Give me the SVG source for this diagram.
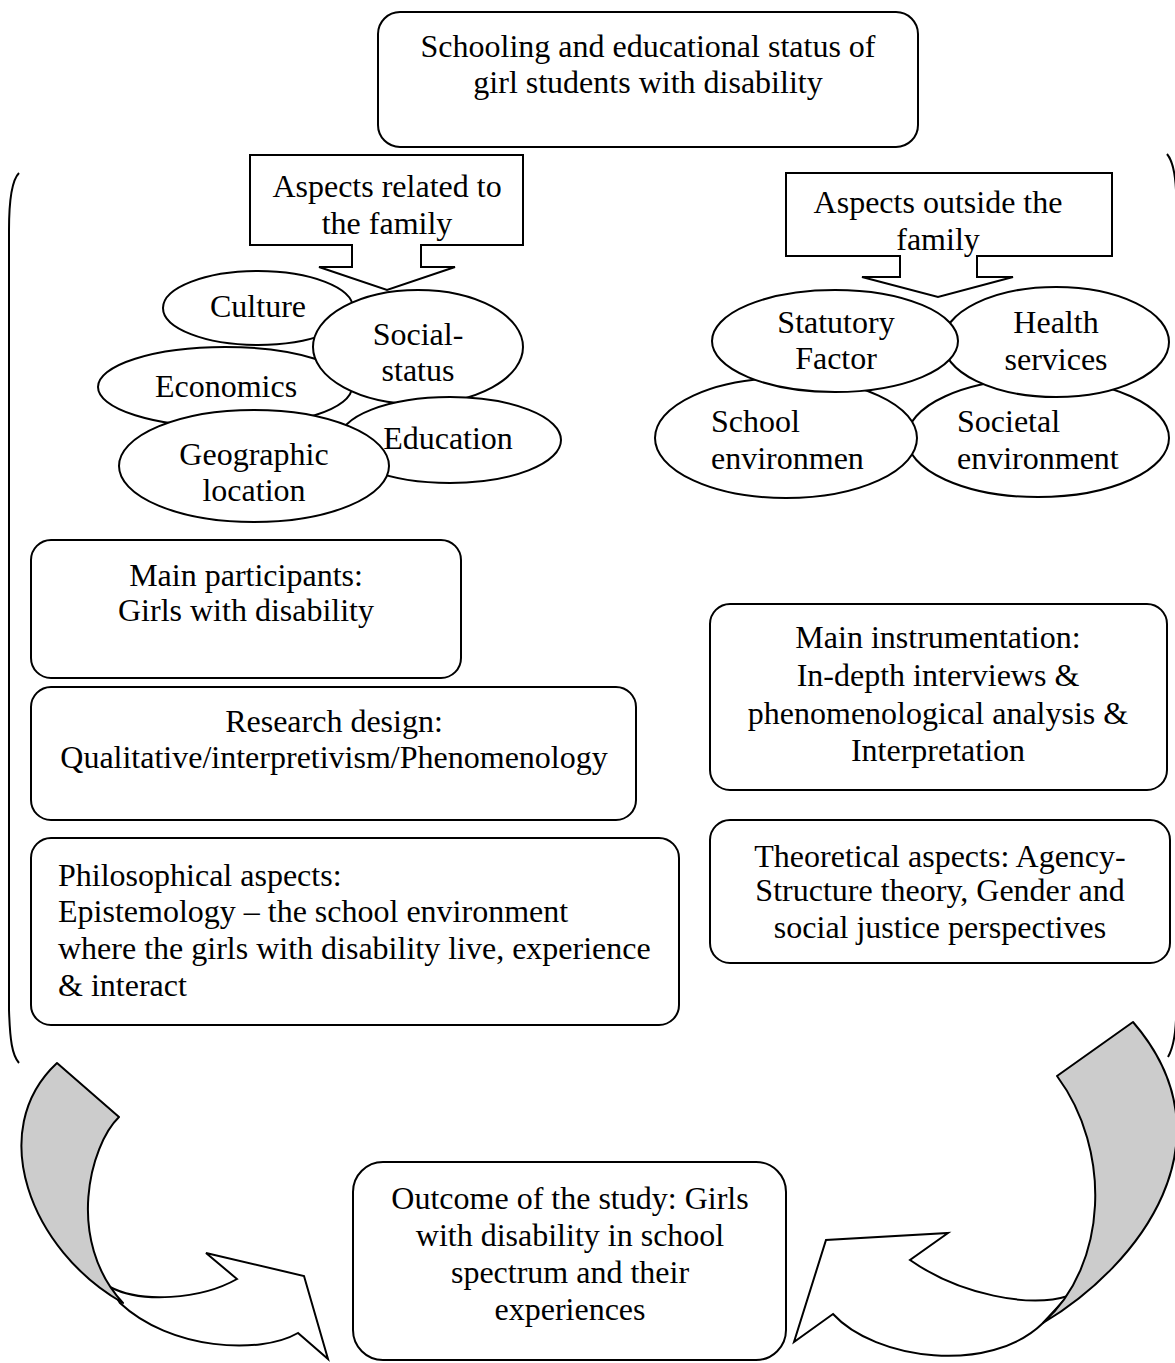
<svg xmlns="http://www.w3.org/2000/svg" width="1175" height="1363" viewBox="0 0 1175 1363">
<style>
.t{font-family:"Liberation Serif","Times New Roman",serif;font-size:32px;fill:#000}
.c{text-anchor:middle}
.b{fill:#fff;stroke:#000;stroke-width:2}
.ln{fill:none;stroke:#000;stroke-width:2}
.g{fill:#cccccc;stroke:#000;stroke-width:2;stroke-linejoin:round}
</style>
<rect width="1175" height="1363" fill="#fff"/>
<g id="connectors">
<path class="ln" d="M19,173 C12,180 9,200 9,230 L9,1010 C10,1040 12,1055 19,1063"/>
<path class="ln" d="M1167,154 C1172,160 1175,170 1176,190 L1176,1020 C1175,1040 1172,1050 1168,1057"/>
<g id="arrow-left">
<path class="b" d="M110,1287 C140,1303 200,1300 237,1279 L206,1253 L304,1276 L328,1359 L298,1333 C260,1355 170,1350 120,1303 Z"/>
<path class="g" d="M57,1063 L119,1117 C90,1145 65,1240 123,1303 C30,1250 -15,1130 57,1063 Z"/>
</g>
<g id="arrow-right">
<path class="b" d="M1068,1296 C1030,1308 960,1295 910,1260 L948,1233 L826,1240 L794,1342 L833,1314 C875,1360 990,1375 1043,1323 Z"/>
<path class="g" d="M1133,1022 L1057,1076 C1112,1150 1108,1265 1043,1323 C1140,1265 1235,1140 1133,1022 Z"/>
</g>
</g>
<g id="title">
<rect class="b" x="378" y="12" width="540" height="135" rx="22"/>
<text class="t c" x="648" y="57">Schooling and educational status of</text>
<text class="t c" x="648" y="93">girl students with disability</text>
</g>
<g id="family-callout">
<path class="b" d="M250,155 H523 V245 H421 V267 H455 L387,290 L319,267 H352 V245 H250 Z"/>
<text class="t c" x="387" y="197">Aspects related to</text>
<text class="t c" x="387" y="234">the family</text>
</g>
<g id="outside-callout">
<path class="b" d="M786,173 H1112 V256 H977 V277 H1013 L938,297 L862,277 H900 V256 H786 Z"/>
<text class="t c" x="938" y="213">Aspects outside the</text>
<text class="t c" x="938" y="250">family</text>
</g>
<g id="culture">
<ellipse class="b" cx="258" cy="308" rx="95" ry="37"/>
<text class="t c" x="258" y="317">Culture</text>
</g>
<g id="economics">
<ellipse class="b" cx="225" cy="387" rx="127" ry="40"/>
<text class="t c" x="226" y="397">Economics</text>
</g>
<g id="social-status">
<ellipse class="b" cx="418" cy="347" rx="105" ry="57"/>
<text class="t c" x="418" y="345">Social-</text>
<text class="t c" x="418" y="381">status</text>
</g>
<g id="education">
<ellipse class="b" cx="450" cy="440" rx="111" ry="43"/>
<text class="t c" x="448" y="449">Education</text>
</g>
<g id="geographic">
<ellipse class="b" cx="254" cy="466" rx="135" ry="56"/>
<text class="t c" x="254" y="465">Geographic</text>
<text class="t c" x="254" y="501">location</text>
</g>
<g id="societal">
<ellipse class="b" cx="1038" cy="438" rx="131" ry="59"/>
<text class="t" x="957" y="432">Societal</text>
<text class="t" x="957" y="469">environment</text>
</g>
<g id="health">
<ellipse class="b" cx="1056" cy="342" rx="113" ry="55"/>
<text class="t c" x="1056" y="333">Health</text>
<text class="t c" x="1056" y="370">services</text>
</g>
<g id="school">
<ellipse class="b" cx="786" cy="438" rx="131" ry="60"/>
<text class="t" x="711" y="432">School</text>
<text class="t" x="711" y="469">environmen</text>
</g>
<g id="statutory">
<ellipse class="b" cx="835" cy="341" rx="123" ry="51"/>
<text class="t c" x="836" y="333">Statutory</text>
<text class="t c" x="836" y="369">Factor</text>
</g>
<g id="participants">
<rect class="b" x="31" y="540" width="430" height="138" rx="20"/>
<text class="t c" x="246" y="586">Main participants:</text>
<text class="t c" x="246" y="621">Girls with disability</text>
</g>
<g id="research-design">
<rect class="b" x="31" y="687" width="605" height="133" rx="20"/>
<text class="t c" x="334" y="732">Research design:</text>
<text class="t c" x="334" y="768">Qualitative/interpretivism/Phenomenology</text>
</g>
<g id="philosophical">
<rect class="b" x="31" y="838" width="648" height="187" rx="20"/>
<text class="t" x="58" y="886">Philosophical aspects:</text>
<text class="t" x="58" y="922">Epistemology – the school environment</text>
<text class="t" x="58" y="959">where the girls with disability live, experience</text>
<text class="t" x="58" y="996">&amp; interact</text>
</g>
<g id="instrumentation">
<rect class="b" x="710" y="604" width="457" height="186" rx="20"/>
<text class="t c" x="938" y="648">Main instrumentation:</text>
<text class="t c" x="938" y="686">In-depth interviews &amp;</text>
<text class="t c" x="938" y="724">phenomenological analysis &amp;</text>
<text class="t c" x="938" y="761">Interpretation</text>
</g>
<g id="theoretical">
<rect class="b" x="710" y="820" width="460" height="143" rx="20"/>
<text class="t c" x="940" y="867">Theoretical aspects: Agency-</text>
<text class="t c" x="940" y="901">Structure theory, Gender and</text>
<text class="t c" x="940" y="938">social justice perspectives</text>
</g>
<g id="outcome">
<rect class="b" x="353" y="1162" width="433" height="198" rx="30"/>
<text class="t c" x="570" y="1209">Outcome of the study: Girls</text>
<text class="t c" x="570" y="1246">with disability in school</text>
<text class="t c" x="570" y="1283">spectrum and their</text>
<text class="t c" x="570" y="1320">experiences</text>
</g>
</svg>
